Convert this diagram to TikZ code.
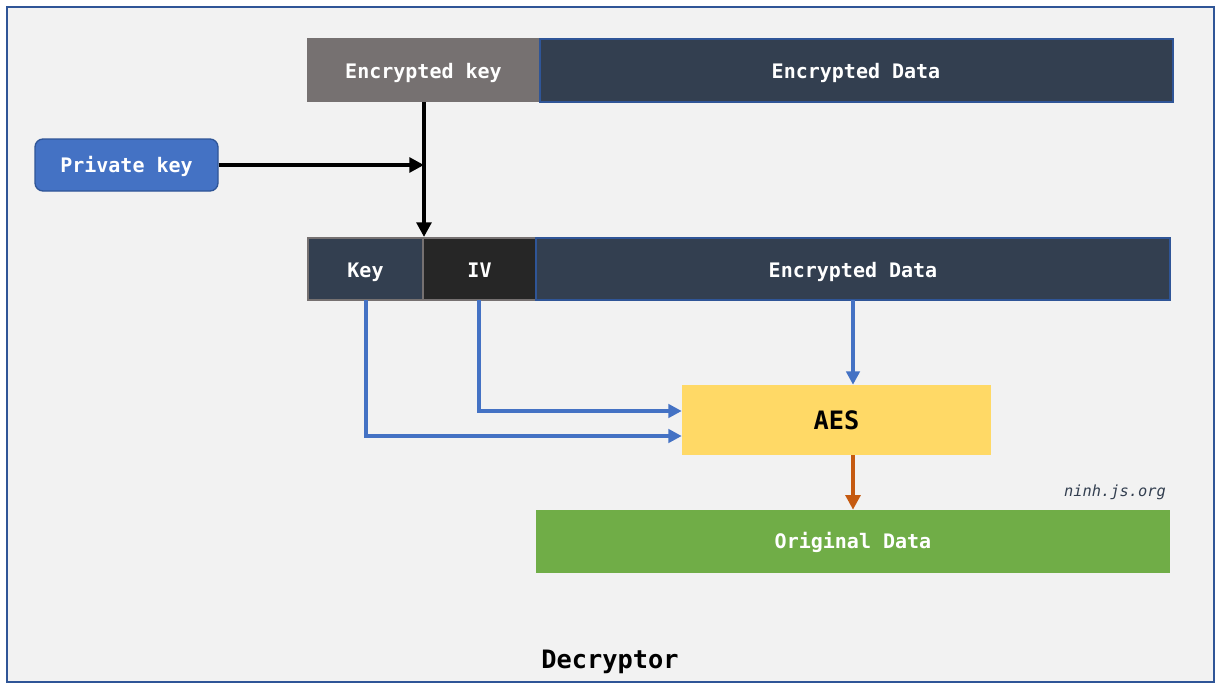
\documentclass[tikz,border=0pt]{standalone}
\usepackage{fontspec}
\setmonofont{DejaVu Sans Mono}
\usetikzlibrary{arrows.meta}
\definecolor{bgc}{HTML}{F2F2F2}
\definecolor{frame}{HTML}{2F5597}
\definecolor{gkey}{HTML}{767171}
\definecolor{navy}{HTML}{333F50}
\definecolor{dark}{HTML}{262626}
\definecolor{pblue}{HTML}{4472C4}
\definecolor{aes}{HTML}{FFD966}
\definecolor{green}{HTML}{70AD47}
\definecolor{brown}{HTML}{C55A11}
\tikzset{
  x=0.75pt, y=-0.75pt,
  lbl/.style={font=\ttfamily\bfseries\fontsize{15}{18}\selectfont, text=white, text height=10.9pt, text depth=0pt},
  big/.style={font=\ttfamily\bfseries\fontsize{19}{22}\selectfont, text height=13.9pt, text depth=0pt},
  blk/.style={draw=black, line width=3.5pt, -{Triangle[length=11pt,width=11pt]}},
  blu/.style={draw=pblue, line width=3pt, -{Triangle[length=10pt,width=10pt]}},
  brn/.style={draw=brown, line width=3pt, -{Triangle[length=11pt,width=11pt]}},
}
\begin{document}
\begin{tikzpicture}
\useasboundingbox (0,0) rectangle (1223,692);
\draw[frame, fill=bgc, line width=1.5pt] (7,7) rectangle (1214,682);
% top row
\path[fill=gkey] (307,38) rectangle (540,102);
\node[lbl] (ek) at (423.5,71) {Encrypted key};
\path[fill=navy, draw=frame, line width=1pt] (540,39) rectangle (1173,102);
\node[lbl] (ed1) at (856,71) {Encrypted Data};
\coordinate (ekb) at (424,102);
% private key
\node[lbl, fill=pblue, draw=frame, line width=1pt, rounded corners=6pt, minimum width=183*0.75pt, minimum height=52*0.75pt] (pk) at (126.5,165) {Private key};
% second row
\path[fill=navy, draw=gkey, line width=1.5pt] (308,238) rectangle (423,300);
\path[fill=dark, draw=gkey, line width=1.5pt] (423,238) rectangle (536,300);
\path[fill=navy, draw=frame, line width=1pt] (536,238) rectangle (1170,300);
\node[lbl] (key) at (365.5,270) {Key};
\node[lbl] (iv) at (479.5,270) {IV};
\node[lbl] (ed2) at (853,270) {Encrypted Data};
\coordinate (keyb) at (366,300);
\coordinate (ivb) at (479,300);
\coordinate (ed2b) at (853,300);
\coordinate (row2t) at (424,237);
\coordinate (join) at (424,165);
% AES
\node[big, fill=aes, minimum width=309*0.75pt, minimum height=70*0.75pt, inner sep=0pt] (aesn) at (836.5,420) {AES};
% Original data
\node[lbl, fill=green, minimum width=634*0.75pt, minimum height=63*0.75pt, inner sep=0pt] (od) at (853,541.5) {Original Data};
\node[anchor=east, font=\ttfamily\itshape\fontsize{11.5}{14}\selectfont, text=navy, inner sep=0pt] (site) at (1166,492) {ninh.js.org};
\node[big, inner sep=0pt] (dec) at (610,659) {Decryptor};
% connectors
\draw[blk] (ekb) -- (row2t);
\draw[blk] (pk.east) -- (join);
\draw[blu] (keyb) |- (aesn.west |- 0,436);
\draw[blu] (ivb) |- (aesn.west |- 0,411);
\draw[blu] (ed2b) -- (aesn.north -| ed2b);
\draw[brn] (aesn.south -| ed2b) -- (od.north -| ed2b);
\end{tikzpicture}
\end{document}
